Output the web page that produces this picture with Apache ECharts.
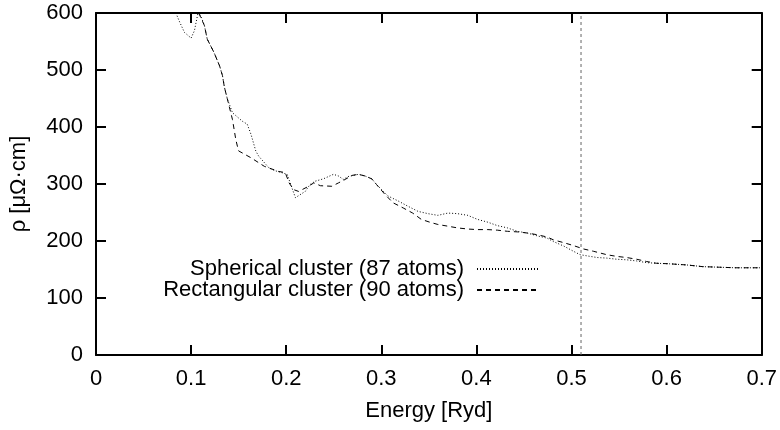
<!DOCTYPE html>
<html>
<head>
<meta charset="utf-8">
<script src="https://cdn.jsdelivr.net/npm/echarts@6/dist/echarts.min.js"></script>
<style>html,body{margin:0;padding:0;background:#fff}#c{width:780px;height:430px}</style>
</head>
<body>
<div id="c"></div>
<script>
// Spherical cluster (87 atoms) — dotted
var sphEnergy = [0.084,0.088,0.093,0.100,0.1035,0.107,0.110,0.114,0.117,0.124,0.130,0.133,0.135,0.138,0.1435,0.154,0.159,0.163,0.168,0.171,0.182,0.189,0.201,0.2097,0.220,0.225,0.2306,0.239,0.2497,0.255,0.260,0.265,0.276,0.283,0.290,0.295,0.307,0.318,0.328,0.3386,0.349,0.3595,0.370,0.380,0.391,0.401,0.412,0.422,0.4326,0.443,0.4535,0.464,0.4744,0.481,0.492,0.502,0.509,0.5196,0.527,0.537,0.5475,0.558,0.5685,0.579,0.589,0.603,0.621,0.638,0.6555,0.673,0.690,0.700];
var sphRho    = [600,584,566,556,569,598,596,578,554,531,507,490,470,450,425,410,405,387,358,349,328,323,317,276,287,299,305,309,317,314,308,313,317,314,309,299,279,270,261,252,248,245,249,248,245,238,233,227,223,217,214,209,205,199,191,182,176,173,171,170,168,167,165,162,161,160,158,155,154,153,153,153];
// Rectangular cluster (90 atoms) — dashed
var recEnergy = [0.108,0.114,0.117,0.124,0.130,0.133,0.135,0.138,0.1435,0.147,0.149,0.150,0.163,0.177,0.192,0.199,0.203,0.208,0.213,0.2166,0.2236,0.229,0.236,0.248,0.255,0.262,0.269,0.276,0.283,0.290,0.295,0.3037,0.3124,0.323,0.333,0.342,0.351,0.3595,0.370,0.380,0.391,0.401,0.412,0.422,0.4326,0.443,0.4535,0.464,0.4744,0.481,0.492,0.502,0.5127,0.523,0.537,0.5475,0.558,0.5685,0.579,0.589,0.603,0.621,0.638,0.6555,0.673,0.690,0.700];
var recRho    = [600,578,554,531,507,490,470,450,413,378,364,358,346,331,322,320,302,290,287,290,296,302,297,296,302,308,315,317,314,309,299,282,267,258,249,238,233,229,226,223,221,220,220,219,217,216,214,211,207,202,197,192,186,182,176,173,171,168,164,161,160,158,155,154,153,153,153];
// Vertical reference line
var refEnergy = [0.51, 0.51];
var refRho = [0, 600];
var xTicks = [0,0.1,0.2,0.3,0.4,0.5,0.6,0.7];
var yTicks = [0,100,200,300,400,500,600];

function pairs(xs, ys){ return xs.map(function(x,i){ return [x, ys[i]]; }); }

var FONT = 'Liberation Sans';
var FS = 22;
var chart = echarts.init(document.getElementById('c'), null, {renderer:'canvas'});
function axisCommon(){
  return {
    axisLine:{show:true, onZero:false, lineStyle:{color:'#000', width:2}},
    axisTick:{show:true, inside:true, length:10, lineStyle:{color:'#000', width:2}},
    splitLine:{show:false}
  };
}
chart.setOption({
  animation:false,
  backgroundColor:'#fff',
  grid:{left:96, right:14, top:13, bottom:75, containLabel:false},
  legend:{
    data:['Spherical cluster (87 atoms)','Rectangular cluster (90 atoms)'],
    orient:'vertical', align:'right', right:240, top:258, padding:0,
    itemWidth:62, itemHeight:14, itemGap:-1,
    itemStyle:{opacity:0, color:'rgba(0,0,0,0)', borderWidth:0},
    textStyle:{fontFamily:FONT, fontSize:FS, lineHeight:20, color:'#000', padding:[0,8,0,0]},
    selectedMode:false
  },
  xAxis:[
    Object.assign({type:'value', min:xTicks[0], max:xTicks[xTicks.length-1], interval:0.1, position:'bottom',
      name:'Energy [Ryd]', nameLocation:'middle', nameGap:45,
      nameTextStyle:{fontFamily:FONT, fontSize:FS, color:'#000'},
      axisLabel:{fontFamily:FONT, fontSize:FS, color:'#000', margin:13,
        formatter:function(v){ return String(Math.round(v*10)/10); }}}, axisCommon()),
    Object.assign({type:'value', min:xTicks[0], max:xTicks[xTicks.length-1], interval:0.1, position:'top',
      axisLabel:{show:false}}, axisCommon())
  ],
  yAxis:[
    Object.assign({type:'value', min:yTicks[0], max:yTicks[yTicks.length-1], interval:100, position:'left',
      name:'ρ [μΩ·cm]', nameLocation:'middle', nameGap:66, nameRotate:90,
      nameTextStyle:{fontFamily:FONT, fontSize:FS, color:'#000'},
      axisLabel:{fontFamily:FONT, fontSize:FS, color:'#000', margin:13}}, axisCommon()),
    Object.assign({type:'value', min:yTicks[0], max:yTicks[yTicks.length-1], interval:100, position:'right',
      axisLabel:{show:false}}, axisCommon())
  ],
  series:[
    {name:'Spherical cluster (87 atoms)', type:'line', data:pairs(sphEnergy, sphRho),
      showSymbol:false, symbol:'none', smooth:false, clip:true,
      lineStyle:{color:'#000', width:1, type:[1,2]}, itemStyle:{color:'#000'}},
    {name:'Rectangular cluster (90 atoms)', type:'line', data:pairs(recEnergy, recRho),
      showSymbol:false, symbol:'none', smooth:false, clip:true,
      lineStyle:{color:'#000', width:1, type:[5,4]}, itemStyle:{color:'#000'}},
    {name:'ref', type:'line', data:pairs(refEnergy, refRho), showSymbol:false, symbol:'none',
      silent:true, lineStyle:{color:'#666', width:1, type:[3,3]}, itemStyle:{color:'#666'}}
  ]
});
</script>
</body>
</html>
